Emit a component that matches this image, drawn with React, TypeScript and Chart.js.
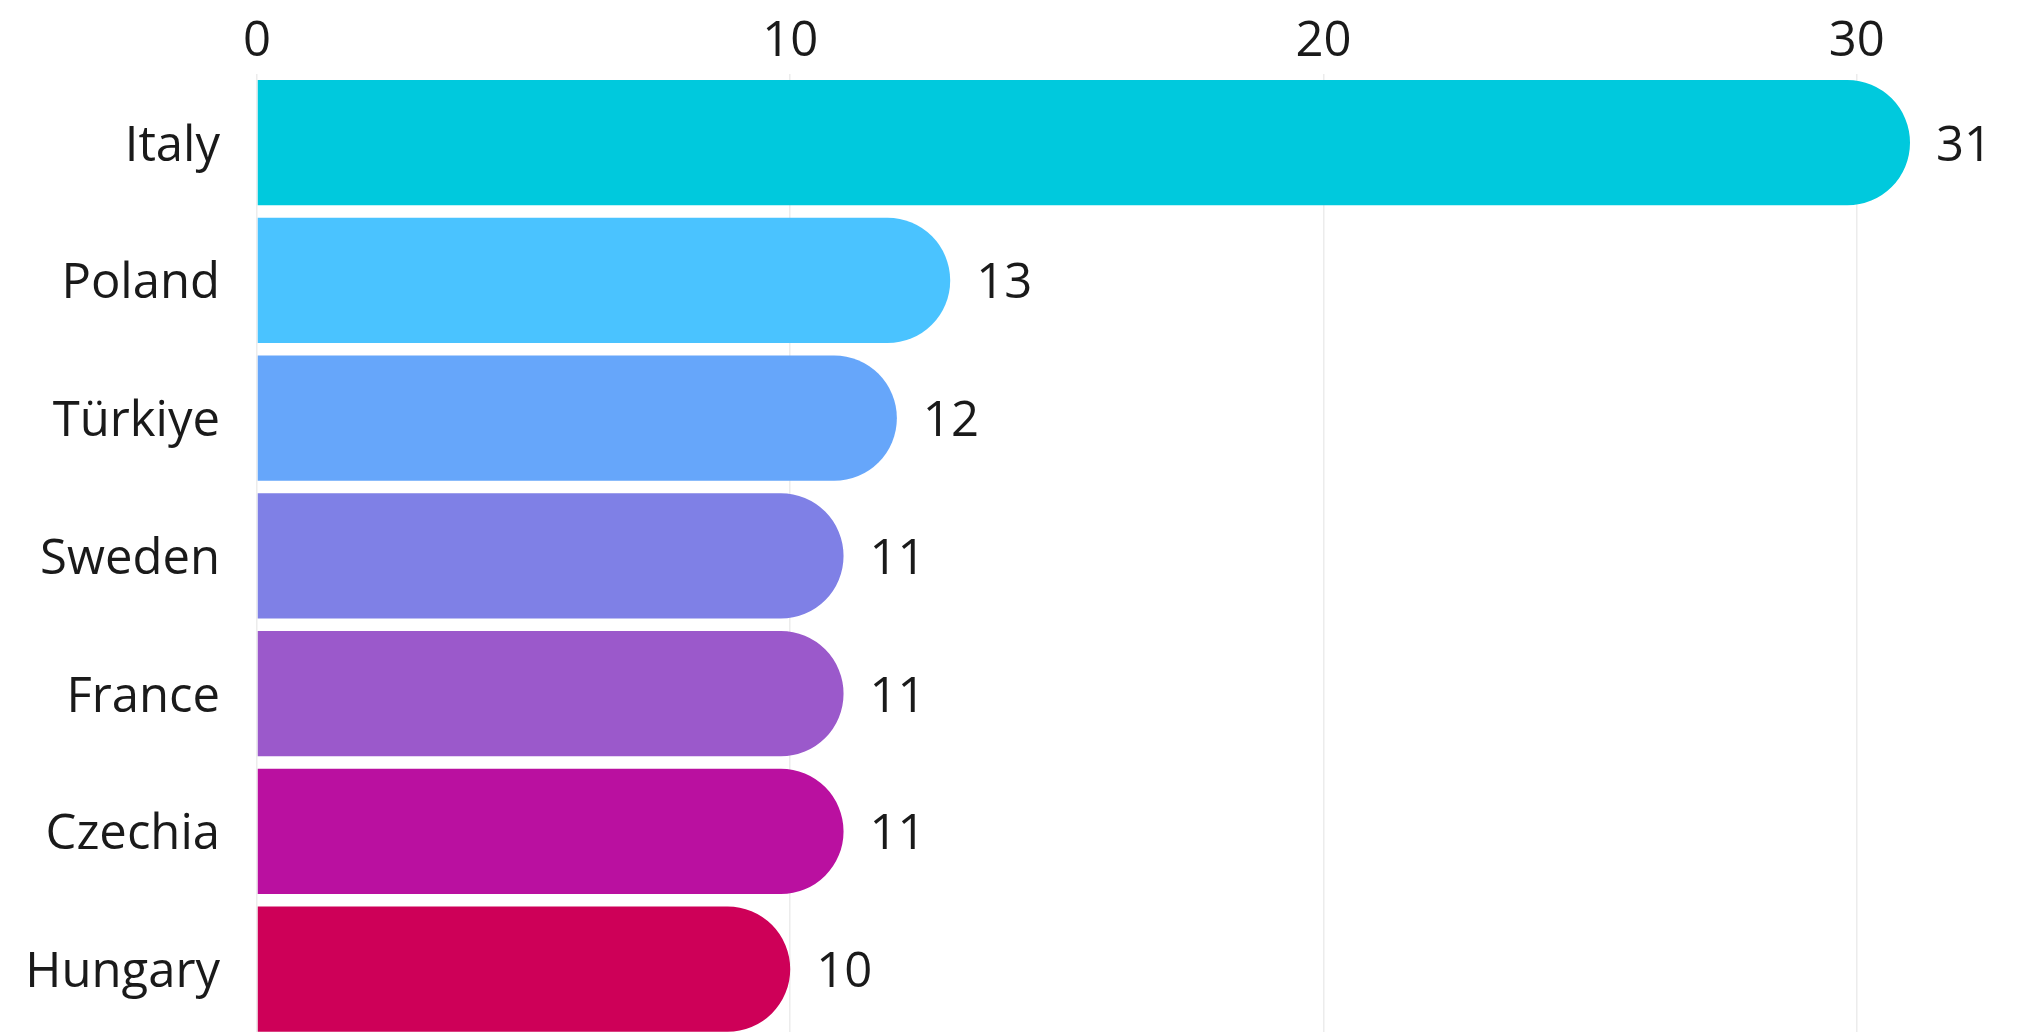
import React, { useEffect, useRef } from "react";
import { Chart, registerables } from "chart.js";

Chart.register(...registerables);

const categories = ["Italy", "Poland", "Türkiye", "Sweden", "France", "Czechia", "Hungary"];
const values = [31, 13, 12, 11, 11, 11, 10];
const barColors = ["#00C9DD", "#4AC3FF", "#66A6FA", "#7F80E6", "#9B59CB", "#BA10A0", "#CE0058"];
const xTicks = [0, 10, 20, 30];

const FONT = "'Open Sans', sans-serif";

const valueLabels = {
  id: "valueLabels",
  afterDatasetsDraw(chart: any) {
    const ctx = chart.ctx;
    const meta = chart.getDatasetMeta(0);
    ctx.save();
    ctx.font = `49px ${FONT}`;
    ctx.fillStyle = "#1a1a1a";
    ctx.textAlign = "left";
    ctx.textBaseline = "middle";
    meta.data.forEach((el: any, i: number) => {
      ctx.fillText(String(values[i]), el.x + 26, el.y + 4);
    });
    ctx.restore();
  },
};

export default function App() {
  const ref = useRef<HTMLCanvasElement | null>(null);
  useEffect(() => {
    if (!ref.current) return;
    const chart = new Chart(ref.current, {
      type: "bar",
      data: {
        labels: categories,
        datasets: [
          {
            data: values,
            backgroundColor: barColors,
            borderRadius: { topLeft: 0, bottomLeft: 0, topRight: 200, bottomRight: 200 },
            borderSkipped: "start",
            categoryPercentage: 1,
            barPercentage: 0.91,
          },
        ],
      },
      options: {
        indexAxis: "y",
        animation: false,
        responsive: false,
        maintainAspectRatio: false,
        layout: { padding: { top: 11, right: 115, bottom: 2, left: 0 } },
        plugins: { legend: { display: false }, tooltip: { enabled: false } },
        scales: {
          x: {
            position: "top",
            min: 0,
            max: 31,
            afterBuildTicks: (s: any) => {
              s.ticks = xTicks.map((v) => ({ value: v }));
            },
            ticks: {
              stepSize: 10,
              includeBounds: false,
              padding: 2,
              color: "#1a1a1a",
              font: { family: FONT, size: 49 },
            },
            grid: { color: "#ececec", lineWidth: 1.5, drawTicks: false },
            border: { display: false },
          },
          y: {
            afterFit: (s: any) => {
              s.width = 257;
              s.paddingTop = 0;
              s.paddingBottom = 0;
            },
            ticks: {
              padding: 37,
              labelOffset: 4,
              color: "#1a1a1a",
              font: { family: FONT, size: 49 },
            },
            grid: { display: false, drawTicks: false },
            border: { display: false },
          },
        },
      },
      plugins: [valueLabels],
    });
    return () => chart.destroy();
  }, []);
  return (
    <div style={{ position: "fixed", left: 0, top: 0, width: 2025, height: 1032, background: "#fff", overflow: "hidden" }}>
      <canvas ref={ref} width={2025} height={1040} style={{ display: "block", width: 2025, height: 1040 }} />
    </div>
  );
}
